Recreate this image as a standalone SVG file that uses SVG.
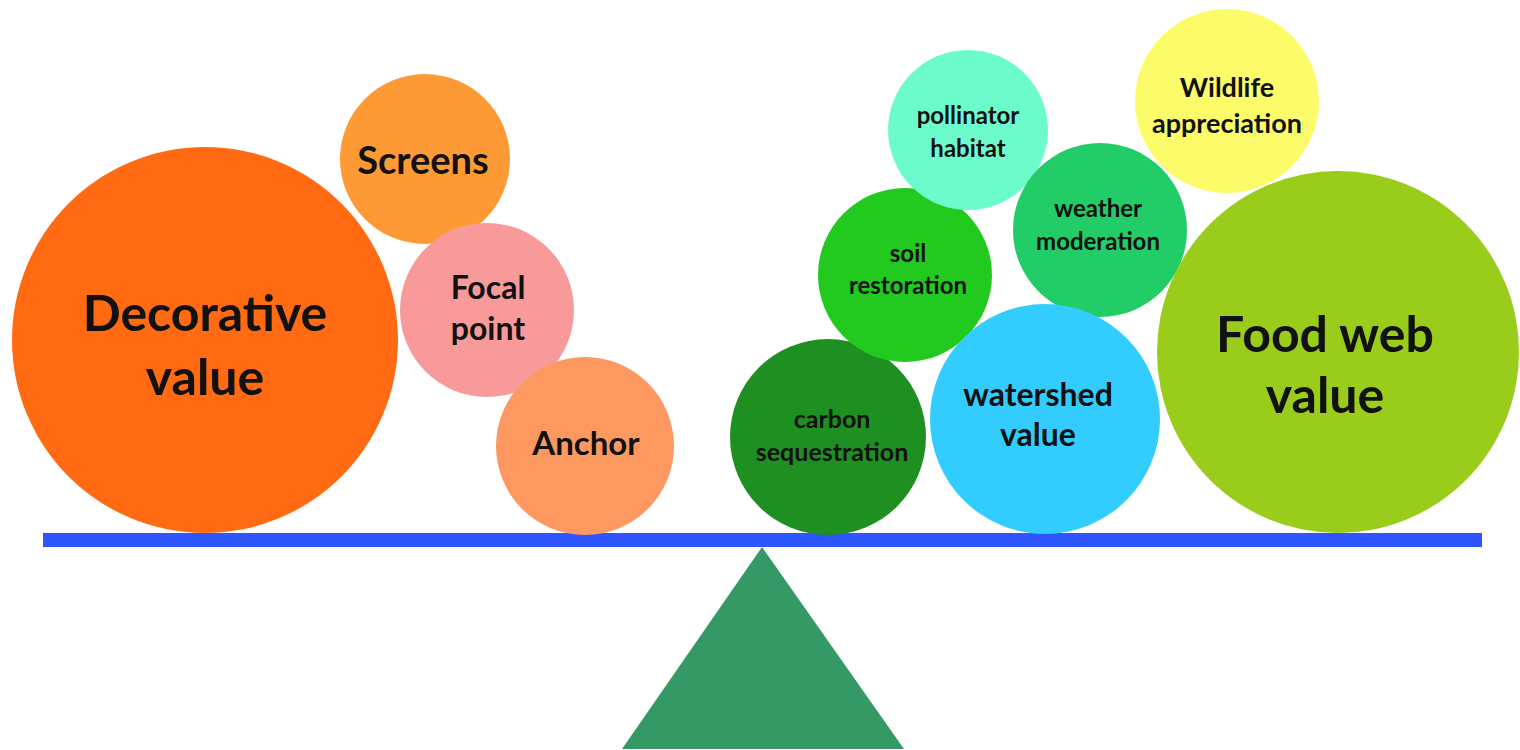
<svg xmlns="http://www.w3.org/2000/svg" width="1520" height="750" viewBox="0 0 1520 750">
<style>
text{font-family:Lato,"Liberation Sans",sans-serif;font-weight:bold;fill:#111;text-anchor:middle}
</style>
<rect width="1520" height="750" fill="#fff"/>
<g id="fulcrum"><polygon points="762,547 622,749 904,749" fill="#349965"/></g>
<g id="beam"><rect x="43" y="533" width="1439" height="14" fill="#2F55FF"/></g>
<g id="decorative"><circle cx="205" cy="340" r="193" fill="#FF6A12"/><text x="205" y="331" font-size="50">Decorative</text><text x="205" y="395" font-size="50">value</text></g>
<g id="screens"><circle cx="425" cy="159" r="85" fill="#FD9A35"/><text x="423" y="174" font-size="38">Screens</text></g>
<g id="focal"><circle cx="487" cy="310" r="87" fill="#F99A9A"/><text x="488" y="299" font-size="32">Focal</text><text x="488" y="340" font-size="32">point</text></g>
<g id="anchor"><circle cx="585" cy="446" r="89" fill="#FD9960"/><text x="586" y="455" font-size="33">Anchor</text></g>
<g id="carbon"><circle cx="828" cy="437" r="98" fill="#1E8F21"/><text x="832" y="428" font-size="25">carbon</text><text x="832" y="461" font-size="25">sequestration</text></g>
<g id="soil"><circle cx="905" cy="275" r="87" fill="#22C91E"/><text x="908" y="262" font-size="24">soil</text><text x="908" y="294" font-size="24">restoration</text></g>
<g id="pollinator"><circle cx="968" cy="130" r="80" fill="#6CFCCB"/><text x="968" y="124" font-size="24">pollinator</text><text x="968" y="157" font-size="24">habitat</text></g>
<g id="weather"><circle cx="1100" cy="230" r="87" fill="#22CC66"/><text x="1098" y="217" font-size="24">weather</text><text x="1098" y="250" font-size="24">moderation</text></g>
<g id="wildlife"><circle cx="1227" cy="101" r="92" fill="#FCFC6A"/><text x="1227" y="97" font-size="27">Wildlife</text><text x="1227" y="133" font-size="27">appreciation</text></g>
<g id="watershed"><circle cx="1045" cy="419" r="115" fill="#33CCFF"/><text x="1038" y="406" font-size="32">watershed</text><text x="1038" y="446" font-size="32">value</text></g>
<g id="foodweb"><circle cx="1338" cy="352" r="181" fill="#9ACC1B"/><text x="1325" y="352" font-size="50">Food web</text><text x="1325" y="413" font-size="50">value</text></g>
<g id="connectors"></g>
</svg>
